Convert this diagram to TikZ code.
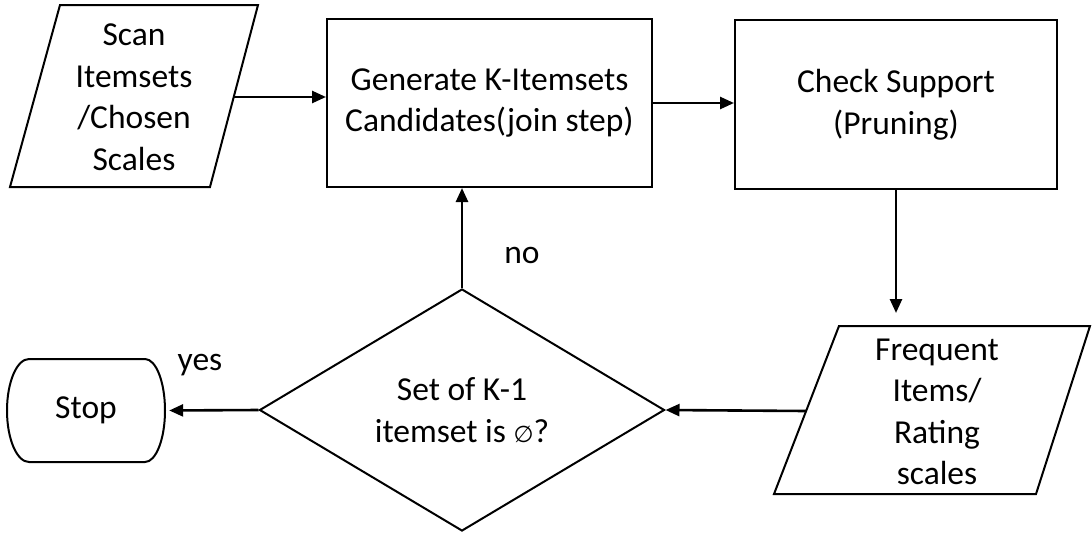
\documentclass[tikz,border=0pt]{standalone}
\usepackage{fontspec}
\setmainfont{Carlito}
\newfontfamily\symfont{DejaVu Sans}
\usetikzlibrary{shapes.geometric,arrows.meta}
\begin{document}
\begin{tikzpicture}[x=1pt,y=-1pt,
  shapeline/.style={draw=black,line width=2pt,fill=white,line join=miter},
  txt/.style={font=\fontsize{33.5}{41.5}\selectfont,align=center,inner sep=0pt},
  procbox/.style={shapeline,rectangle,inner sep=0pt,txt},
  flow/.style={line width=2.6pt,-{Triangle[length=14pt,width=12pt]}},
]
\useasboundingbox (0,0) rectangle (1092,536);

% input: scanned itemsets
\draw[shapeline] (60,5) -- (258,5) -- (210,187) -- (10,187) -- cycle;
\node[txt] (scan) at (134,97) {Scan\\Itemsets\\/Chosen\\Scales};
\coordinate (scanR) at (234,97);

% candidate generation and support check
\node[procbox,minimum width=325pt,minimum height=168pt] (gen) at (489.5,103)
  {Generate K-Itemsets\\Candidates(join step)};
\node[procbox,minimum width=322pt,minimum height=169pt] (check) at (896,104.5)
  {Check Support\\(Pruning)};

% output: frequent items
\draw[shapeline] (839,326) -- (1090,326) -- (1036,494) -- (774,494) -- cycle;
\node[txt] (freq) at (937,412) {Frequent\\Items/\\Rating\\scales};
\coordinate (freqT) at (896,326);
\coordinate (freqL) at (806,411);

% decision
\node[shapeline,diamond,minimum width=405pt,minimum height=242pt,inner sep=0pt,txt]
  (test) at (462,410) {Set of K-1\\itemset is {\symfont\fontsize{23}{23}\selectfont ∅}?};

% terminator
\draw[shapeline] (29,359) -- (145,359)
  arc[start angle=90,end angle=-90,x radius=20pt,y radius=51.5pt]
  -- (29,462)
  arc[start angle=270,end angle=90,x radius=22pt,y radius=51.5pt] -- cycle;
\node[txt,minimum width=158pt,minimum height=103pt] (stop) at (86,410.5) {Stop};

% connectors
\draw[flow] (scanR) -- (scanR -| gen.west);
\draw[flow] (gen.east) -- (gen.east -| check.west);
\draw[flow,shorten >=13pt] (check.south) -- (freqT);
\draw[flow] (freqL) -- (test.east);
\draw[flow,shorten >=4pt] (test.west) -- (stop.east);
\draw[flow] (test.north) -- (test.north |- gen.south);

% branch labels
\node[txt,anchor=base] (yes) at (200,370) {yes};
\node[txt,anchor=base] (no) at (522,263) {no};
\end{tikzpicture}
\end{document}
